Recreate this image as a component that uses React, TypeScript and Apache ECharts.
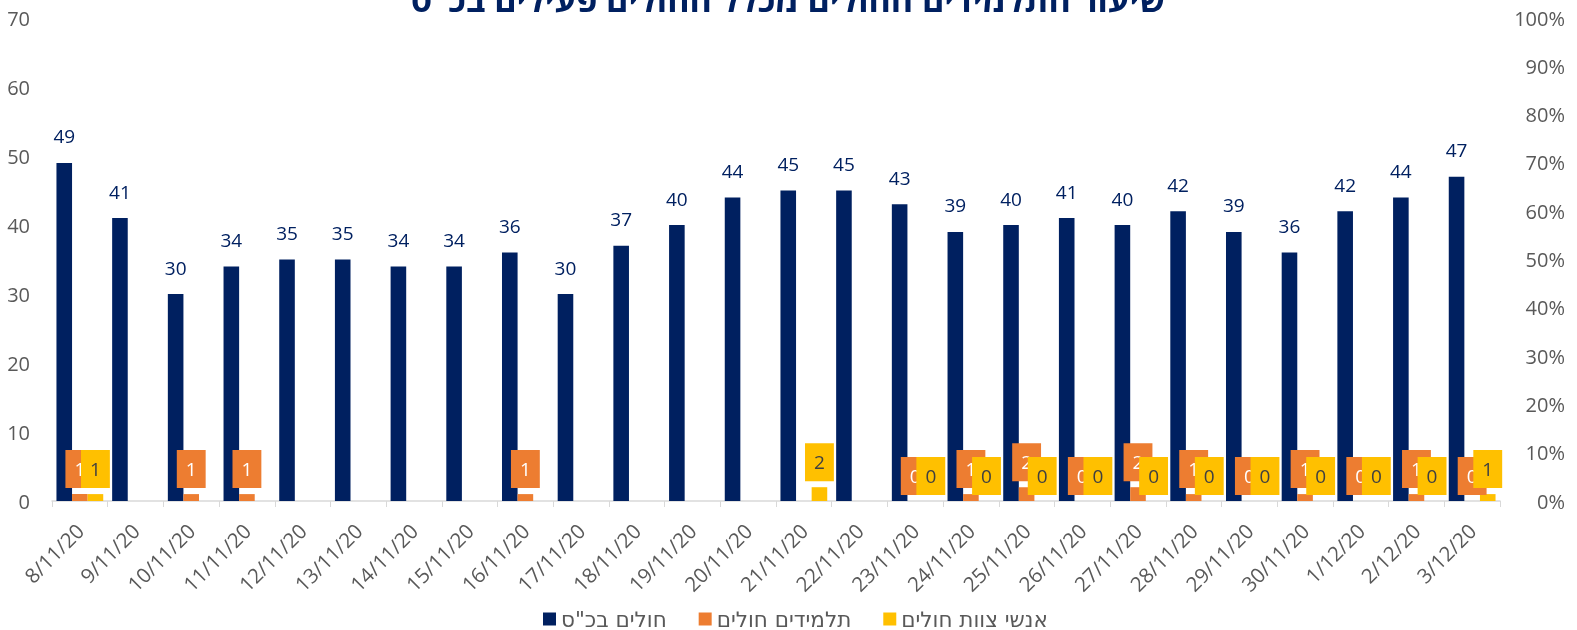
import React, { useEffect, useRef } from "react";
import * as echarts from "echarts";

const categories = [
  "8/11/20", "9/11/20", "10/11/20", "11/11/20", "12/11/20", "13/11/20", "14/11/20",
  "15/11/20", "16/11/20", "17/11/20", "18/11/20", "19/11/20", "20/11/20", "21/11/20",
  "22/11/20", "23/11/20", "24/11/20", "25/11/20", "26/11/20", "27/11/20", "28/11/20",
  "29/11/20", "30/11/20", "1/12/20", "2/12/20", "3/12/20",
];

const totalSick = [49, 41, 30, 34, 35, 35, 34, 34, 36, 30, 37, 40, 44, 45, 45, 43, 39, 40, 41, 40, 42, 39, 36, 42, 44, 47];
const studentsSick = [1, null, 1, 1, null, null, null, null, 1, null, null, null, null, null, null, 0, 1, 2, 0, 2, 1, 0, 1, 0, 1, 0];
const staffSick = [1, null, null, null, null, null, null, null, null, null, null, null, null, 2, null, 0, 0, 0, 0, 0, 0, 0, 0, 0, 0, 1];

const leftTicks = { min: 0, max: 70, interval: 10 };
const rightTicks = { min: 0, max: 1, interval: 0.1 };

const titleText = 'שיעור התלמידים החולים מכלל החולים פעילים בכ"ס';
const seriesNames = ['חולים בכ"ס', "תלמידים חולים", "אנשי צוות חולים"];

const FONT = "'Open Sans', 'Liberation Sans', 'DejaVu Sans', sans-serif";
const LEGEND_FONT = "'DejaVu Sans', 'Liberation Sans', sans-serif";
const NAVY = "#002060";
const ORANGE = "#ED7D31";
const YELLOW = "#FFC000";
const GRAY = "#595959";

export default function App() {
  const ref = useRef<HTMLDivElement>(null);
  useEffect(() => {
    if (!ref.current) return;
    const chart = echarts.init(ref.current, undefined, { renderer: "svg" });
    chart.setOption({
      animation: false,
      textStyle: { fontFamily: FONT },
      title: {
        text: titleText,
        left: "center",
        top: -23,
        textStyle: { color: NAVY, fontSize: 34, fontWeight: "bold", fontFamily: FONT },
      },
      legend: {
        bottom: 0,
        padding: 0,
        left: 543,
        itemWidth: 13,
        itemHeight: 13,
        itemGap: 32,
        icon: "rect",
        textStyle: { color: GRAY, fontSize: 21.5, fontFamily: LEGEND_FONT },
        data: seriesNames,
      },
      grid: { left: 52, right: 77, top: 18, bottom: 129 },
      xAxis: {
        type: "category",
        data: categories,
        axisLine: { lineStyle: { color: "#D9D9D9", width: 1.5 } },
        axisTick: { show: true, alignWithLabel: false, length: 6, lineStyle: { color: "#D9D9D9" } },
        axisLabel: { rotate: 45, color: GRAY, fontSize: 20.5, margin: 26, interval: 0, fontFamily: FONT },
      },
      yAxis: [
        {
          type: "value",
          ...leftTicks,
          splitLine: { show: false },
          axisLine: { show: false },
          axisTick: { show: false },
          axisLabel: { color: GRAY, fontSize: 20, margin: 22, fontFamily: FONT },
        },
        {
          type: "value",
          position: "right",
          ...rightTicks,
          splitLine: { show: false },
          axisLine: { show: false },
          axisTick: { show: false },
          axisLabel: {
            color: GRAY,
            fontSize: 20,
            margin: 65,
            align: "right",
            fontFamily: FONT,
            formatter: (v: number) => Math.round(v * 100) + "%",
          },
        },
      ],
      series: [
        {
          name: seriesNames[0],
          type: "bar",
          data: totalSick,
          barGap: "0%",
          barCategoryGap: "16%",
          itemStyle: { color: NAVY },
          label: {
            show: true,
            position: "top",
            distance: 17,
            color: NAVY,
            fontSize: 19,
            fontFamily: FONT,
          },
        },
        {
          name: seriesNames[1],
          type: "bar",
          data: studentsSick,
          barGap: "0%",
          barCategoryGap: "16%",
          itemStyle: { color: ORANGE },
          label: {
            show: true,
            position: "top",
            distance: 6,
            color: "#FFFFFF",
            fontSize: 19,
            lineHeight: 22,
            backgroundColor: ORANGE,
            padding: [8, 9, 8, 9],
            fontFamily: FONT,
          },
        },
        {
          name: seriesNames[2],
          type: "bar",
          data: staffSick,
          barGap: "0%",
          barCategoryGap: "16%",
          itemStyle: { color: YELLOW },
          label: {
            show: true,
            position: "top",
            distance: 6,
            color: "#404040",
            fontSize: 19,
            lineHeight: 22,
            backgroundColor: YELLOW,
            padding: [8, 9, 8, 9],
            fontFamily: FONT,
          },
        },
      ],
    });
    return () => chart.dispose();
  }, []);
  return (
    <div
      ref={ref}
      style={{ position: "fixed", left: 0, top: 0, width: 1577, height: 630 }}
    />
  );
}
